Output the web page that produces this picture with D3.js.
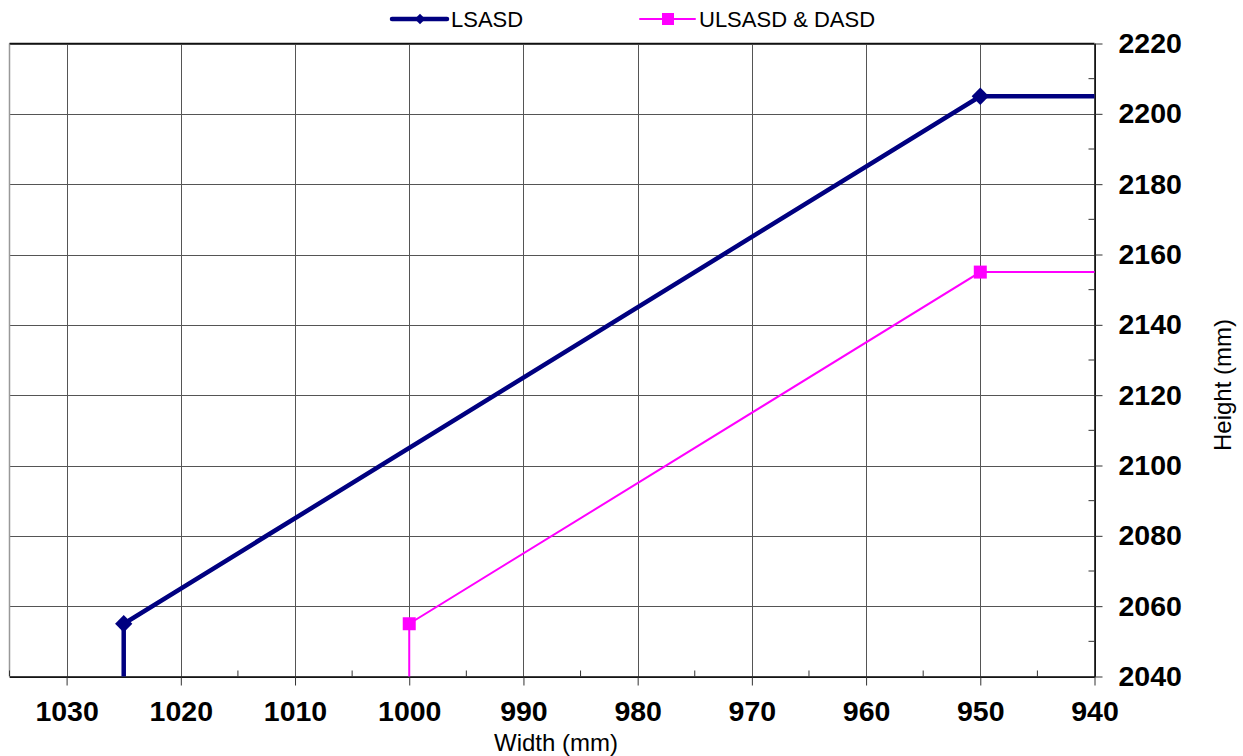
<!DOCTYPE html>
<html>
<head>
<meta charset="utf-8">
<script src="https://cdn.jsdelivr.net/npm/d3@7"></script>
<style>
body { margin: 0; background: #fff; }
svg { font-family: Arial, "Liberation Sans", sans-serif; }
.tick-lbl { font-weight: bold; font-size: 28.5px; fill: #000; }
</style>
</head>
<body>
<div id="container"></div>
<script>
// data
var seriesNames = ["LSASD", "ULSASD & DASD"];
var lsasdWidth = [1025, 1025, 950, 930];
var lsasdHeight = [2030, 2055, 2205, 2205];
var ulsasdWidth = [1000, 1000, 950, 930];
var ulsasdHeight = [2030, 2055, 2155, 2155];
var xTicks = [1030, 1020, 1010, 1000, 990, 980, 970, 960, 950, 940];
var yTicks = [2040, 2060, 2080, 2100, 2120, 2140, 2160, 2180, 2200, 2220];

var svgAttr = { width: 1243, height: 756 };
var plot = { left: 9.5, right: 1094.5, top: 43.5, bottom: 676.5 };

var svg = d3.select("#container").append("svg")
    .attr("width", svgAttr.width).attr("height", svgAttr.height);

var x = d3.scaleLinear().domain([1035, 940]).range([plot.left, plot.right]);
var y = d3.scaleLinear().domain([2040, 2220]).range([plot.bottom, plot.top]);

svg.append("defs").append("clipPath").attr("id", "plotclip")
    .append("rect").attr("x", plot.left).attr("y", plot.top)
    .attr("width", plot.right - plot.left).attr("height", plot.bottom - plot.top);

// grid
var grid = svg.append("g").attr("class", "grid");
grid.selectAll("line.v").data(xTicks).enter().append("line")
    .attr("x1", function (d) { return Math.round(x(d)) + 0.5; })
    .attr("x2", function (d) { return Math.round(x(d)) + 0.5; })
    .attr("y1", plot.top).attr("y2", plot.bottom)
    .attr("stroke", "#555").attr("stroke-width", 1);
grid.selectAll("line.h").data(yTicks).enter().append("line")
    .attr("y1", function (d) { return Math.round(y(d)) + 0.5; })
    .attr("y2", function (d) { return Math.round(y(d)) + 0.5; })
    .attr("x1", plot.left).attr("x2", plot.right)
    .attr("stroke", "#555").attr("stroke-width", 1);

// frame
svg.append("line").attr("x1", plot.left).attr("x2", plot.left)
    .attr("y1", plot.top).attr("y2", plot.bottom).attr("stroke", "#999").attr("stroke-width", 1.5);
svg.append("line").attr("x1", plot.left).attr("x2", plot.right)
    .attr("y1", plot.top).attr("y2", plot.top).attr("stroke", "#111").attr("stroke-width", 1.5);

// bottom axis
var xAxis = d3.axisBottom(x).tickValues(xTicks).tickSize(9).tickSizeOuter(0).tickPadding(15).tickFormat(d3.format("d"));
var gx = svg.append("g").attr("transform", "translate(0," + plot.bottom + ")").call(xAxis);
gx.select(".domain").attr("stroke", "#000").attr("stroke-width", 1.5);
gx.selectAll(".tick line").attr("stroke", "#333");
gx.selectAll(".tick text").attr("class", "tick-lbl").attr("dy", "0.71em");
var xMinor = d3.range(1035, 940, -10);
gx.selectAll("line.minor").data(xMinor).enter().append("line")
    .attr("x1", function (d) { return x(d); }).attr("x2", function (d) { return x(d); })
    .attr("y1", 0).attr("y2", -6).attr("stroke", "#333");

// right axis
var yAxis = d3.axisRight(y).tickValues(yTicks).tickSize(8).tickSizeOuter(0).tickPadding(16).tickFormat(d3.format("d"));
var gy = svg.append("g").attr("transform", "translate(" + plot.right + ",0)").call(yAxis);
gy.select(".domain").attr("stroke", "#000").attr("stroke-width", 1.5);
gy.selectAll(".tick line").attr("stroke", "#333");
gy.selectAll(".tick text").attr("class", "tick-lbl");
var yMinor = d3.range(2050, 2220, 20);
gy.selectAll("line.minor").data(yMinor).enter().append("line")
    .attr("y1", function (d) { return y(d); }).attr("y2", function (d) { return y(d); })
    .attr("x1", 0).attr("x2", -6).attr("stroke", "#333");

// axis titles
svg.append("text").attr("x", 556).attr("y", 751).attr("text-anchor", "middle")
    .attr("font-size", 24).text("Width (mm)");
svg.append("text").attr("transform", "translate(1231,385) rotate(-90)")
    .attr("text-anchor", "middle").attr("font-size", 24).text("Height (mm)");

// series
var series = [
    { name: seriesNames[0], w: lsasdWidth, h: lsasdHeight, color: "#000080", width: 4.5, marker: "diamond" },
    { name: seriesNames[1], w: ulsasdWidth, h: ulsasdHeight, color: "#FF00FF", width: 2, marker: "square" }
];
var line = d3.line().x(function (d) { return x(d[0]); }).y(function (d) { return y(d[1]); });
var drawn = svg.append("g").attr("clip-path", "url(#plotclip)");
var markerSym = {
    diamond: d3.symbol().type(d3.symbolDiamond2).size(190),
    square: d3.symbol().type(d3.symbolSquare).size(169)
};
var legendSym = {
    diamond: d3.symbol().type(d3.symbolDiamond2).size(70),
    square: d3.symbol().type(d3.symbolSquare).size(144)
};
series.forEach(function (s) {
    var pts = s.w.map(function (w, i) { return [w, s.h[i]]; });
    drawn.append("path").datum(pts).attr("d", line)
        .attr("fill", "none").attr("stroke", s.color).attr("stroke-width", s.width)
        .attr("stroke-linejoin", "miter");
    var inside = pts.filter(function (p) { return p[0] <= 1035 && p[0] >= 940 && p[1] > 2040 && p[1] <= 2220; });
    svg.selectAll(null).data(inside).enter().append("path")
        .attr("d", markerSym[s.marker])
        .attr("transform", function (d) { return "translate(" + x(d[0]) + "," + y(d[1]) + ")"; })
        .attr("fill", s.color);
});

// legend
var legendX = [392, 640];
var legend = svg.append("g");
series.forEach(function (s, i) {
    var g = legend.append("g").attr("transform", "translate(" + legendX[i] + ",19)");
    g.append("line").attr("x1", 0).attr("x2", 55).attr("stroke", s.color)
        .attr("stroke-width", s.width).attr("stroke-linecap", "round");
    g.append("path").attr("d", legendSym[s.marker]).attr("transform", "translate(28,0)")
        .attr("fill", s.color);
    g.append("text").attr("x", 59).attr("y", 8).attr("font-size", 22).text(s.name);
});
</script>
</body>
</html>
